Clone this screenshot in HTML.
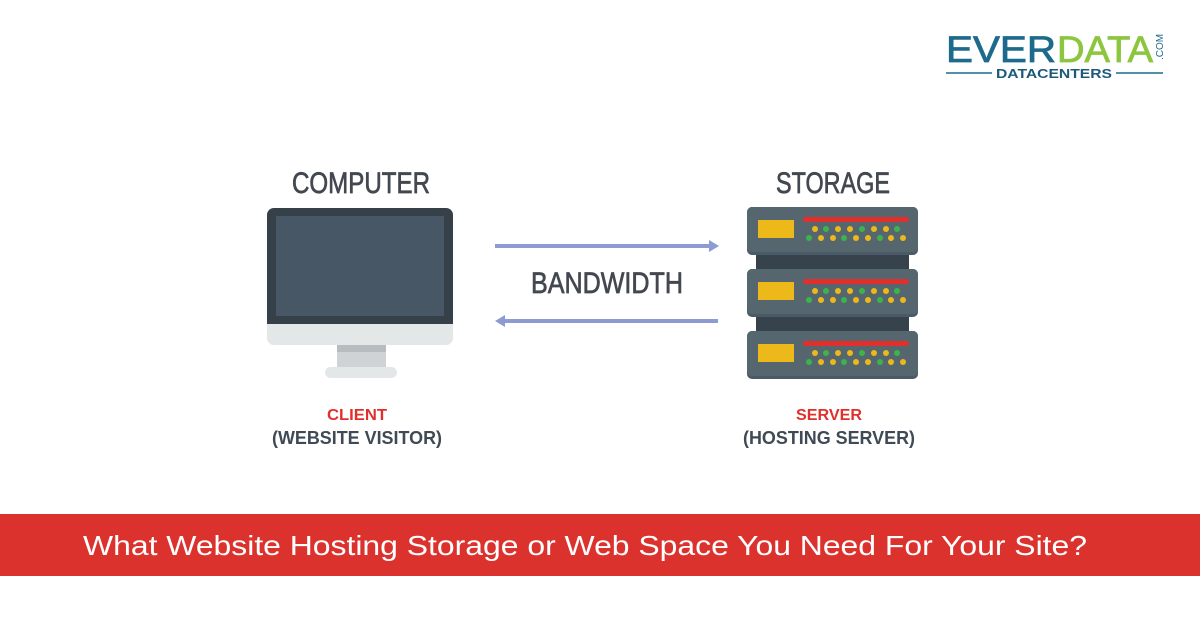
<!DOCTYPE html>
<html><head><meta charset="utf-8"><style>
html,body{margin:0;padding:0;background:#fff;width:1200px;height:628px;overflow:hidden}
svg{display:block}
</style></head><body>
<svg width="1200" height="628" viewBox="0 0 1200 628" xmlns="http://www.w3.org/2000/svg" font-family="Liberation Sans, sans-serif">
<rect width="1200" height="628" fill="#fff"/>
<!-- logo -->
<text x="946" y="62" font-size="37" fill="#1d6a8c" stroke="#1d6a8c" stroke-width="0.8" textLength="110" lengthAdjust="spacingAndGlyphs">EVER</text>
<text x="1057" y="62" font-size="37" fill="#8cc63f" stroke="#8cc63f" stroke-width="0.8" textLength="96" lengthAdjust="spacingAndGlyphs">DATA</text>
<text x="0" y="0" font-size="10" fill="#1d6a8c" transform="translate(1163,60) rotate(-90)">.COM</text>
<line x1="946" y1="73" x2="992" y2="73" stroke="#1d6a8c" stroke-width="1.5"/>
<line x1="1116" y1="73" x2="1163" y2="73" stroke="#1d6a8c" stroke-width="1.5"/>
<text x="1054" y="78" font-size="13" font-weight="bold" fill="#1d5a7a" text-anchor="middle" textLength="116" lengthAdjust="spacingAndGlyphs">DATACENTERS</text>
<!-- headings -->
<g fill="#434850" stroke="#434850" stroke-width="0.7" font-size="30" text-anchor="middle">
<text x="361" y="193" textLength="138" lengthAdjust="spacingAndGlyphs">COMPUTER</text>
<text x="607" y="293" textLength="152" lengthAdjust="spacingAndGlyphs">BANDWIDTH</text>
<text x="833" y="193" textLength="114" lengthAdjust="spacingAndGlyphs">STORAGE</text>
</g>
<!-- monitor -->
<rect x="267" y="208" width="186" height="137" rx="7" fill="#e4e7e8"/>
<path d="M274 208 H446 A7 7 0 0 1 453 215 V324 H267 V215 A7 7 0 0 1 274 208Z" fill="#364049"/>
<rect x="276" y="216" width="168" height="100" fill="#475766"/>
<rect x="337" y="345" width="49" height="22" fill="#cfd3d5"/>
<rect x="337" y="345" width="49" height="7" fill="#b7bcbf"/>
<rect x="325" y="367" width="72" height="11" rx="5.5" fill="#e4e7e8"/>
<!-- arrows -->
<g fill="#8e9bd2">
<rect x="495" y="244" width="215" height="4"/>
<polygon points="709,240 719,246 709,252"/>
<rect x="504" y="319" width="214" height="4"/>
<polygon points="505,315 495,321 505,327"/>
</g>
<!-- server -->
<rect x="756" y="250" width="153" height="25" fill="#36424c"/>
<rect x="756" y="312" width="153" height="25" fill="#36424c"/>
<g id="u">
<rect x="747" y="207" width="171" height="48" rx="5" fill="#4a5a67"/>
<rect x="747" y="207" width="171" height="45" rx="5" fill="#56666f"/>
<rect x="758" y="220" width="36" height="18" fill="#edb91a"/>
<rect x="803" y="217" width="106" height="5" rx="2.5" fill="#e1302b"/>
<g>
<circle cx="815" cy="229" r="3" fill="#edb91a"/><circle cx="826" cy="229" r="3" fill="#3bb44a"/><circle cx="838" cy="229" r="3" fill="#edb91a"/><circle cx="850" cy="229" r="3" fill="#edb91a"/><circle cx="862" cy="229" r="3" fill="#3bb44a"/><circle cx="874" cy="229" r="3" fill="#edb91a"/><circle cx="886" cy="229" r="3" fill="#edb91a"/><circle cx="897" cy="229" r="3" fill="#3bb44a"/>
<circle cx="809" cy="238" r="3" fill="#3bb44a"/><circle cx="821" cy="238" r="3" fill="#edb91a"/><circle cx="833" cy="238" r="3" fill="#edb91a"/><circle cx="844" cy="238" r="3" fill="#3bb44a"/><circle cx="856" cy="238" r="3" fill="#edb91a"/><circle cx="868" cy="238" r="3" fill="#edb91a"/><circle cx="880" cy="238" r="3" fill="#3bb44a"/><circle cx="891" cy="238" r="3" fill="#edb91a"/><circle cx="903" cy="238" r="3" fill="#edb91a"/>
</g>
</g>
<use href="#u" transform="translate(0,62)"/>
<use href="#u" transform="translate(0,124)"/>
<!-- captions -->
<g font-weight="bold" text-anchor="middle">
<text x="357" y="420" font-size="16" fill="#e1302b" textLength="60" lengthAdjust="spacingAndGlyphs">CLIENT</text>
<text x="357" y="444" font-size="18" fill="#3f4a55" textLength="170" lengthAdjust="spacingAndGlyphs">(WEBSITE VISITOR)</text>
<text x="829" y="420" font-size="16" fill="#e1302b" textLength="66" lengthAdjust="spacingAndGlyphs">SERVER</text>
<text x="829" y="444" font-size="18" fill="#3f4a55" textLength="172" lengthAdjust="spacingAndGlyphs">(HOSTING SERVER)</text>
</g>
<!-- banner -->
<rect x="0" y="514" width="1200" height="62" fill="#dc322d"/>
<text x="585" y="555" font-size="28" fill="#fff" text-anchor="middle" textLength="1004" lengthAdjust="spacingAndGlyphs">What Website Hosting Storage or Web Space You Need For Your Site?</text>
</svg>
</body></html>
